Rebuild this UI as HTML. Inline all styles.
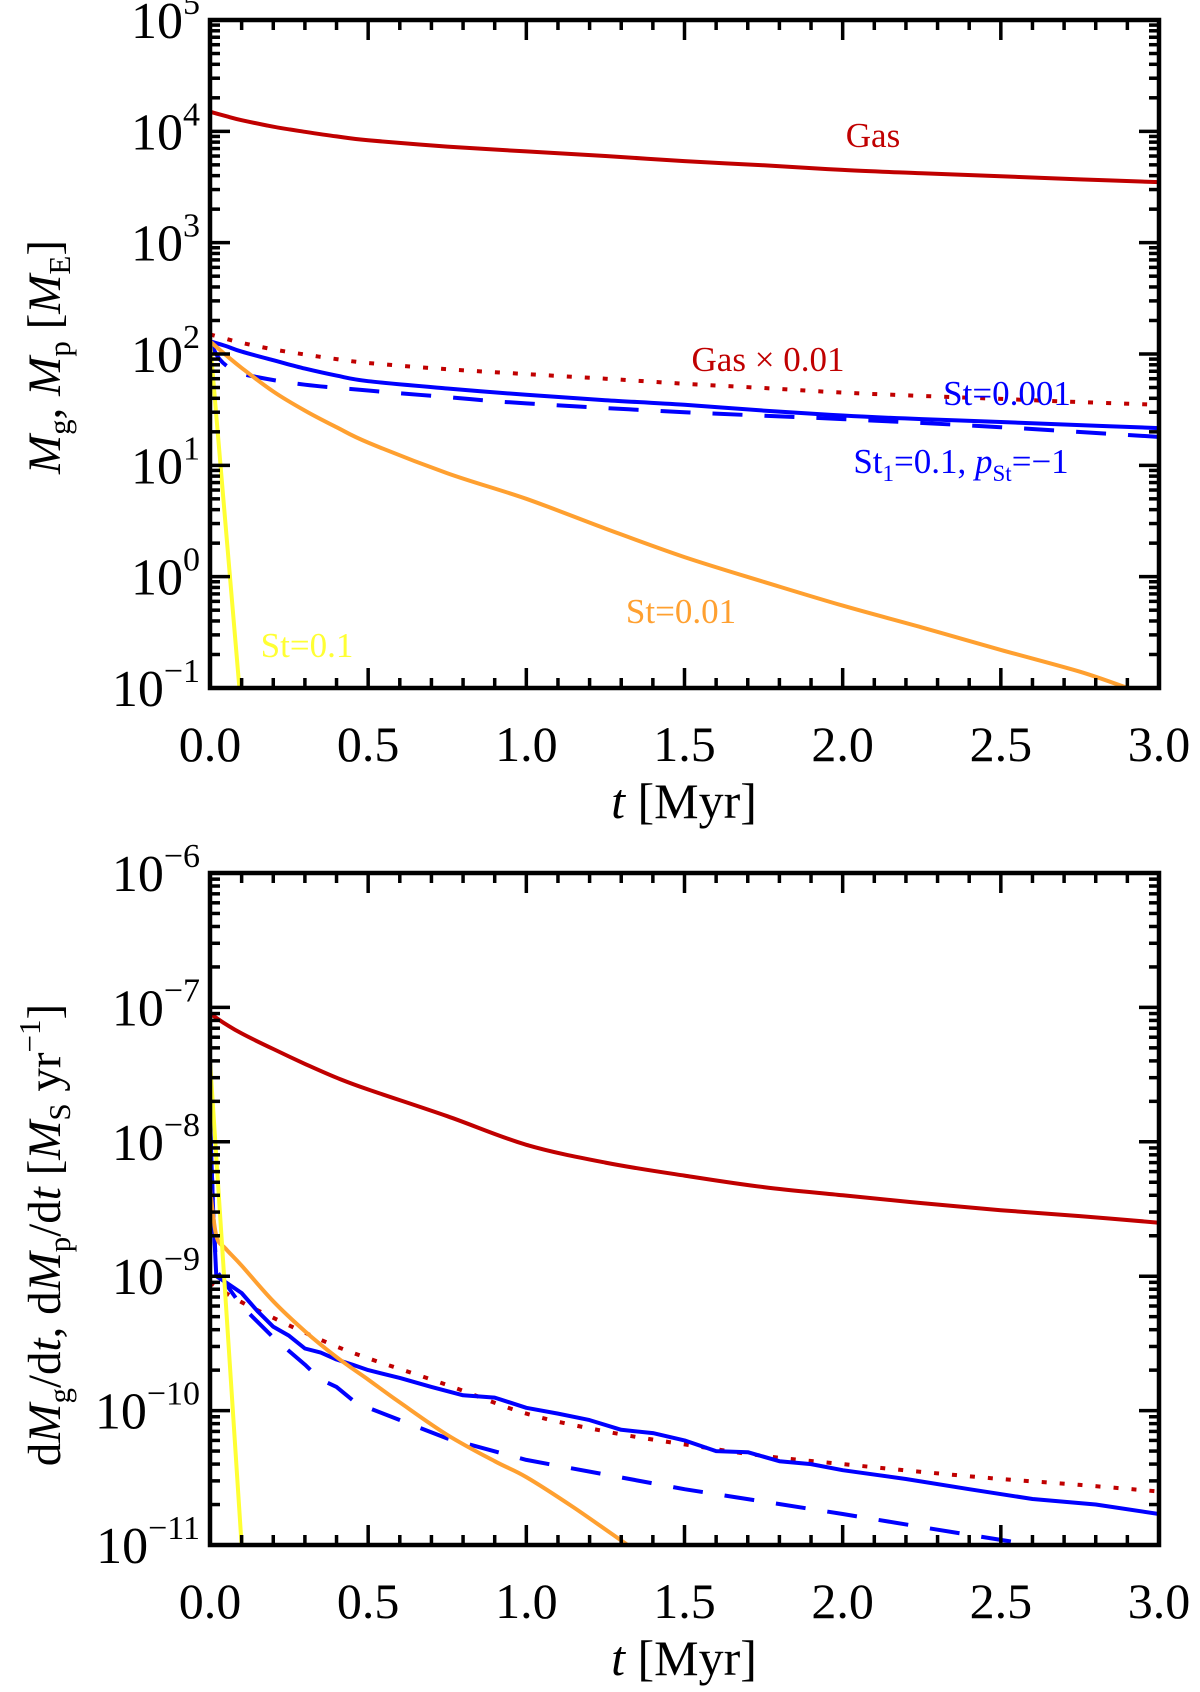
<!DOCTYPE html>
<html><head><meta charset="utf-8"><style>
body{margin:0;background:#fff}
svg{display:block;font-family:"Liberation Serif",serif}
</style></head><body>
<svg id="fig" width="1200" height="1692" viewBox="0 0 1200 1692" xmlns="http://www.w3.org/2000/svg"></svg>
<script>
// ---- data: top panel (masses, M_E) ----
const topT = [0, 0.05, 0.1, 0.2, 0.3, 0.4, 0.5, 0.75, 1.0, 1.25, 1.5, 1.75, 2.0, 2.25, 2.5, 2.75, 3.0];
const topGas = [15000, 13700, 12600, 11000, 9900, 9000, 8300, 7300, 6600, 6000, 5400, 4950, 4500, 4200, 3950, 3700, 3500];
const topGas001 = [150, 137, 126, 110, 99, 90, 83, 73, 66, 60, 54, 49.5, 45, 42, 39.5, 37, 35];
const topSt001 = [130, 118, 105, 88, 74, 64, 57, 49, 43, 38.5, 35, 31, 28, 26, 24.5, 23, 21.6];
const topDashT = [0, 0.03, 0.08, 0.15, 0.3, 0.5, 0.75, 1.0, 1.5, 2.0, 2.5, 3.0];
const topDash = [130, 90, 70, 62, 53, 47, 41, 36, 30, 26, 22, 18];
const topSt01T = [0, 0.05, 0.1, 0.2, 0.3, 0.4, 0.5, 0.75, 1.0, 1.25, 1.5, 1.75, 2.0, 2.25, 2.5, 2.75, 2.9];
const topSt01 = [130, 98, 75, 46, 31, 22, 16, 8.5, 5, 2.7, 1.5, 0.9, 0.55, 0.35, 0.22, 0.14, 0.1];
const topYelT = [0, 0.093];
const topYel = [130, 0.1];
const topYTicks = [-1, 0, 1, 2, 3, 4, 5];
// ---- data: bottom panel (rates, M_S/yr) ----
const botT = [0, 0.05, 0.1, 0.2, 0.3, 0.4, 0.5, 0.75, 1.0, 1.25, 1.5, 1.75, 2.0, 2.25, 2.5, 2.75, 3.0];
const botGas = [9e-8, 7.5e-8, 6.4e-8, 4.9e-8, 3.8e-8, 3.0e-8, 2.45e-8, 1.55e-8, 9.5e-9, 7e-9, 5.6e-9, 4.6e-9, 4e-9, 3.5e-9, 3.1e-9, 2.8e-9, 2.5e-9];
const botGas001 = [9e-10, 7.5e-10, 6.4e-10, 4.9e-10, 3.8e-10, 3.0e-10, 2.45e-10, 1.55e-10, 9.5e-11, 7e-11, 5.6e-11, 4.6e-11, 4e-11, 3.5e-11, 3.1e-11, 2.8e-11, 2.5e-11];
const botSolT = [0, 0.01, 0.02, 0.05, 0.1, 0.15, 0.2, 0.25, 0.3, 0.35, 0.4, 0.45, 0.5, 0.6, 0.7, 0.8, 0.9, 1.0, 1.1, 1.2, 1.3, 1.4, 1.5, 1.6, 1.7, 1.8, 1.9, 2.0, 2.2, 2.4, 2.6, 2.8, 3.0];
const botSol = [1.5e-8, 3e-9, 1.0e-9, 9e-10, 7.5e-10, 5.5e-10, 4.2e-10, 3.6e-10, 2.9e-10, 2.7e-10, 2.4e-10, 2.2e-10, 2.0e-10, 1.75e-10, 1.5e-10, 1.3e-10, 1.25e-10, 1.05e-10, 9.5e-11, 8.5e-11, 7.2e-11, 6.8e-11, 6.0e-11, 5.0e-11, 4.9e-11, 4.2e-11, 4.0e-11, 3.6e-11, 3.1e-11, 2.6e-11, 2.2e-11, 2.0e-11, 1.7e-11];
const botDashT = [0, 0.01, 0.02, 0.1, 0.2, 0.3, 0.35, 0.4, 0.45, 0.5, 0.75, 1.0, 1.5, 2.0, 2.3, 2.6];
const botDash = [1.5e-8, 3e-9, 1.1e-9, 6e-10, 3.5e-10, 2.2e-10, 1.7e-10, 1.5e-10, 1.2e-10, 1.05e-10, 6.2e-11, 4.3e-11, 2.6e-11, 1.7e-11, 1.3e-11, 1.0e-11];
const botOrT = [0, 0.02, 0.05, 0.1, 0.2, 0.3, 0.4, 0.5, 0.6, 0.75, 0.9, 1.0, 1.15, 1.32];
const botOr = [4.5e-9, 2.0e-9, 1.6e-9, 1.2e-9, 6.5e-10, 3.9e-10, 2.5e-10, 1.7e-10, 1.15e-10, 6.6e-11, 4.2e-11, 3.2e-11, 1.9e-11, 1.0e-11];
const botYelT = [0, 0.1];
const botYel = [4e-8, 1e-11];
const botYTicks = [-11, -10, -9, -8, -7, -6];
const xTicks = ["0.0", "0.5", "1.0", "1.5", "2.0", "2.5", "3.0"];

const NS = "http://www.w3.org/2000/svg";
const svg = document.getElementById('fig');
function mk(tag, attrs, parent) {
  const e = document.createElementNS(NS, tag);
  for (const k in attrs) e.setAttribute(k, attrs[k]);
  (parent || svg).appendChild(e);
  return e;
}
const X0 = 210, X1 = 1159;
function xs(t) { return X0 + t / 3 * (X1 - X0); }

function smoothPath(pts) {
  let d = 'M' + pts[0][0].toFixed(1) + ',' + pts[0][1].toFixed(1);
  for (let i = 0; i < pts.length - 1; i++) {
    const p0 = pts[Math.max(i - 1, 0)], p1 = pts[i], p2 = pts[i + 1], p3 = pts[Math.min(i + 2, pts.length - 1)];
    const c1 = [p1[0] + (p2[0] - p0[0]) / 6, p1[1] + (p2[1] - p0[1]) / 6];
    const c2 = [p2[0] - (p3[0] - p1[0]) / 6, p2[1] - (p3[1] - p1[1]) / 6];
    d += 'C' + c1[0].toFixed(1) + ',' + c1[1].toFixed(1) + ' ' + c2[0].toFixed(1) + ',' + c2[1].toFixed(1) + ' ' + p2[0].toFixed(1) + ',' + p2[1].toFixed(1);
  }
  return d;
}

function panel(p) {
  const g = mk('g', {});
  
  
  const ys = v => p.top + (p.lmax - Math.log10(v)) / (p.lmax - p.lmin) * (p.bot - p.top);
  const clip = mk('clipPath', {id: p.name + '-clip'}, g);
  mk('rect', {x: X0, y: p.top, width: X1 - X0, height: p.bot - p.top}, clip);
  const cg = mk('g', {'clip-path': 'url(#' + p.name + '-clip)'}, g);
  p.series.forEach(s => {
    const pts = s.t.map((t, i) => [xs(t), ys(s.v[i])]);
    const d = s.jag ? pts.map((q, i) => (i ? 'L' : 'M') + q[0].toFixed(1) + ',' + q[1].toFixed(1)).join('') : smoothPath(pts);
    const path = mk('path', {d: d, fill: 'none', stroke: s.color, 'stroke-width': s.w || 4, 'stroke-dasharray': s.dash || 'none', 'stroke-linejoin': 'round'}, cg);
    
    
  });
  const tk = mk('g', {stroke: '#000', 'stroke-width': 3.5}, g);
  
  
  for (let i = 0; i <= 30; i++) {
    const x = xs(i / 10), L = i % 5 === 0 ? 20 : 10;
    mk('line', {x1: x, y1: p.bot, x2: x, y2: p.bot - L}, tk);
    mk('line', {x1: x, y1: p.top, x2: x, y2: p.top + L}, tk);
  }
  for (let e = p.lmin; e <= p.lmax; e++) {
    for (let m = 1; m <= 9; m++) {
      if (e === p.lmax && m > 1) break;
      const y = ys(m * Math.pow(10, e)), L = m === 1 ? 20 : 10;
      mk('line', {x1: X0, y1: y, x2: X0 + L, y2: y}, tk);
      mk('line', {x1: X1, y1: y, x2: X1 - L, y2: y}, tk);
    }
  }
  const fr = mk('rect', {x: X0, y: p.top, width: X1 - X0, height: p.bot - p.top, fill: 'none', stroke: '#000', 'stroke-width': 4.5}, g);
  
  
  xTicks.forEach((lab, i) => {
    const t = mk('text', {x: xs(i * 0.5), y: p.bot + 73, 'font-size': 50, 'text-anchor': 'middle'}, g);
    t.textContent = lab;
    
    
  });
  p.yticks.forEach(e => {
    const t = mk('text', {x: X0 - 10, y: ys(Math.pow(10, e)) + 18, 'font-size': 52, 'text-anchor': 'end'}, g);
    
    
    const a = mk('tspan', {}, t); a.textContent = '10';
    const b = mk('tspan', {dy: -24, 'font-size': 34}, t); b.textContent = String(e).replace('-', '−');
  });
  const xt = mk('text', {x: 684, y: p.bot + 130, 'font-size': 50, 'text-anchor': 'middle'}, g);
  
  
  xt.innerHTML = '<tspan font-style="italic">t</tspan> [Myr]';
  const yt = mk('text', {x: 0, y: 0, 'font-size': 47, 'text-anchor': 'middle', transform: 'translate(' + p.ytx + ',' + p.yty + ') rotate(-90)'}, g);
  
  
  yt.innerHTML = p.ytitle;
  (p.labels || []).forEach(l => {
    const t = mk('text', {x: l.x, y: l.y, 'font-size': 35, fill: l.c, 'text-anchor': 'middle'}, g);
    
    
    t.innerHTML = l.html;
  });
}

const RED = '#c00000', BLUE = '#0000ff', ORANGE = '#ffa030', YEL = '#ffff33';
panel({name: 'mass-panel', top: 20, bot: 688, lmin: -1, lmax: 5, yticks: topYTicks, ytx: 60, yty: 357,
  ytitle: '<tspan font-style="italic">M</tspan><tspan font-size="31" dy="10">g</tspan><tspan dy="-10">, </tspan><tspan font-style="italic">M</tspan><tspan font-size="31" dy="10">p</tspan><tspan dy="-10"> [</tspan><tspan font-style="italic">M</tspan><tspan font-size="31" dy="10">E</tspan><tspan dy="-10">]</tspan>',
  series: [
    {name: 'gas-line', t: topT, v: topGas, color: RED},
    {name: 'gas-0.01-line', t: topT, v: topGas001, color: RED, dash: '5 13'},
    {name: 'st-0.001-line', t: topT, v: topSt001, color: BLUE},
    {name: 'st-variable-line', t: topDashT, v: topDash, color: BLUE, dash: '30 22'},
    {name: 'st-0.01-line', t: topSt01T, v: topSt01, color: ORANGE},
    {name: 'st-0.1-line', t: topYelT, v: topYel, color: YEL}],
  labels: [
    {name: 'gas-label', x: 873, y: 147, c: RED, html: 'Gas'},
    {name: 'gas-0.01-label', x: 768, y: 371, c: RED, html: 'Gas × 0.01'},
    {name: 'st-0.001-label', x: 1007, y: 405, c: BLUE, html: 'St=0.001'},
    {name: 'st-variable-label', x: 961, y: 473, c: BLUE, html: 'St<tspan font-size="23" dy="8">1</tspan><tspan dy="-8">=0.1, </tspan><tspan font-style="italic">p</tspan><tspan font-size="23" dy="8">St</tspan><tspan dy="-8">=−1</tspan>'},
    {name: 'st-0.01-label', x: 681, y: 623, c: ORANGE, html: 'St=0.01'},
    {name: 'st-0.1-label', x: 307, y: 657, c: YEL, html: 'St=0.1'}]
});
panel({name: 'rate-panel', top: 873, bot: 1545, lmin: -11, lmax: -6, yticks: botYTicks, ytx: 60, yty: 1235,
  ytitle: 'd<tspan font-style="italic">M</tspan><tspan font-size="31" dy="10">g</tspan><tspan dy="-10">/d</tspan><tspan font-style="italic">t</tspan>, d<tspan font-style="italic">M</tspan><tspan font-size="31" dy="10">p</tspan><tspan dy="-10">/d</tspan><tspan font-style="italic">t</tspan> [<tspan font-style="italic">M</tspan><tspan font-size="31" dy="10">S</tspan><tspan dy="-10"> yr</tspan><tspan font-size="31" dy="-20">−1</tspan><tspan dy="20">]</tspan>',
  series: [
    {name: 'gas-rate-line', t: botT, v: botGas, color: RED},
    {name: 'gas-0.01-rate-line', t: botT, v: botGas001, color: RED, dash: '5 13'},
    {name: 'st-0.001-rate-line', t: botSolT, v: botSol, color: BLUE, jag: true},
    {name: 'st-variable-rate-line', t: botDashT, v: botDash, color: BLUE, dash: '30 22', jag: true},
    {name: 'st-0.01-rate-line', t: botOrT, v: botOr, color: ORANGE},
    {name: 'st-0.1-rate-line', t: botYelT, v: botYel, color: YEL}]
});
</script>
</body></html>
